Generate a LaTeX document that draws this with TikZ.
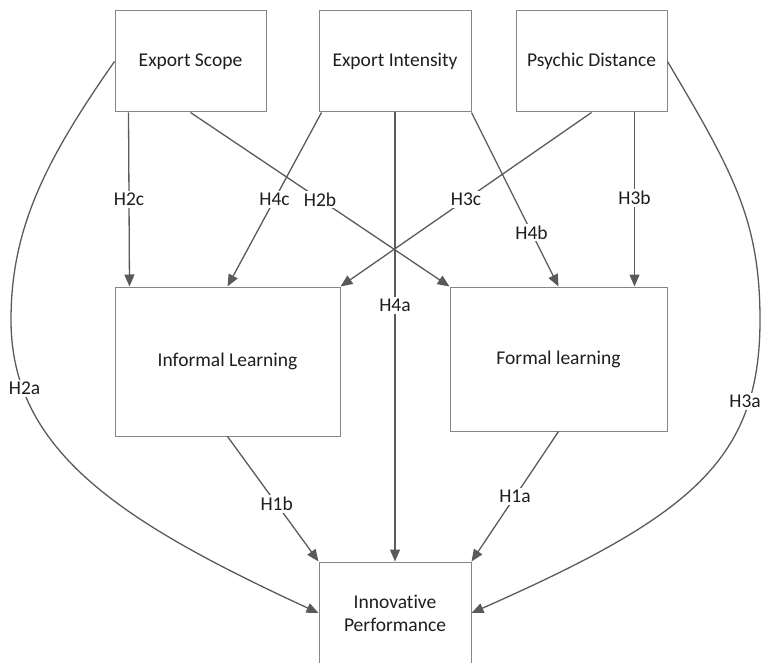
\documentclass[tikz,border=0pt]{standalone}
\usepackage{fontspec}
\setmainfont{Carlito}[Ligatures=NoCommon]
\usetikzlibrary{arrows.meta}
\definecolor{boxLine}{HTML}{858585}
\definecolor{linkLine}{HTML}{5A5A5A}
\definecolor{labelText}{HTML}{1E1E1E}

\begin{document}
\begin{tikzpicture}[x=1pt, y=-1pt, text=labelText,
  font=\fontsize{19.5}{23}\selectfont,
  var/.style={draw=boxLine, line width=1pt, fill=white, inner sep=0pt, align=center},
  link/.style={draw=linkLine, line width=1.3pt, -{Triangle[length=12pt,width=10pt]}},
  hyp/.style={fill=white, inner sep=2pt}]
  \useasboundingbox (0,0) rectangle (763,663);
  % (a) variables
  \node[var, minimum width=151pt, minimum height=101pt] (scope) at (190.5,61.5) {Export Scope};
  \node[var, minimum width=152pt, minimum height=101pt] (intens) at (395,61.5) {Export Intensity};
  \node[var, minimum width=151pt, minimum height=101pt] (psych) at (591.5,61.5) {Psychic Distance};
  \node[var, minimum width=225pt, minimum height=149pt] (inform) at (227.5,361.5) {Informal Learning};
  \node[var, minimum width=217pt, minimum height=144pt] (formal) at (558.5,359) {Formal learning};
  \node[var, minimum width=152pt, minimum height=102pt] (innov) at (395,613) {Innovative\\Performance};
  % (b) hypotheses
  \draw[link] ([xshift=14pt]scope.south west) -- ([xshift=15pt]inform.north west) node[hyp, pos=0.5] {H2c};
  \draw[link] (scope.south) -- (formal.north west) node[hyp, pos=0.5] {H2b};
  \draw[link] ([xshift=3pt]intens.south west) -- (inform.north) node[hyp, pos=0.5] {H4c};
  \draw[link] (intens.south) -- (innov.north) node[hyp, pos=0.43] {H4a};
  \draw[link] (intens.south east) -- (formal.north) node[hyp, pos=0.69] {H4b};
  \draw[link] (psych.south) -- (inform.north east) node[hyp, pos=0.5] {H3c};
  \draw[link] ([xshift=-33pt]psych.south east) -- ([xshift=-33pt]formal.north east) node[hyp, pos=0.49] {H3b};
  \draw[link] (inform.south) -- (innov.north west) node[hyp, pos=0.54] {H1b};
  \draw[link] (formal.south) -- (innov.north east) node[hyp, pos=0.5] {H1a};
  \draw[link] (scope.west) .. controls (44,162) and (11,230) .. (11,320)
    .. controls (11,450) and (119,521) .. (innov.west) node[hyp, pos=0.19, xshift=2pt] {H2a};
  \draw[link] (psych.east) .. controls (733,172) and (760,220) .. (760,320)
    .. controls (760,460) and (691,516) .. (innov.east) node[hyp, pos=0.22, xshift=-4pt] {H3a};
\end{tikzpicture}
\end{document}
